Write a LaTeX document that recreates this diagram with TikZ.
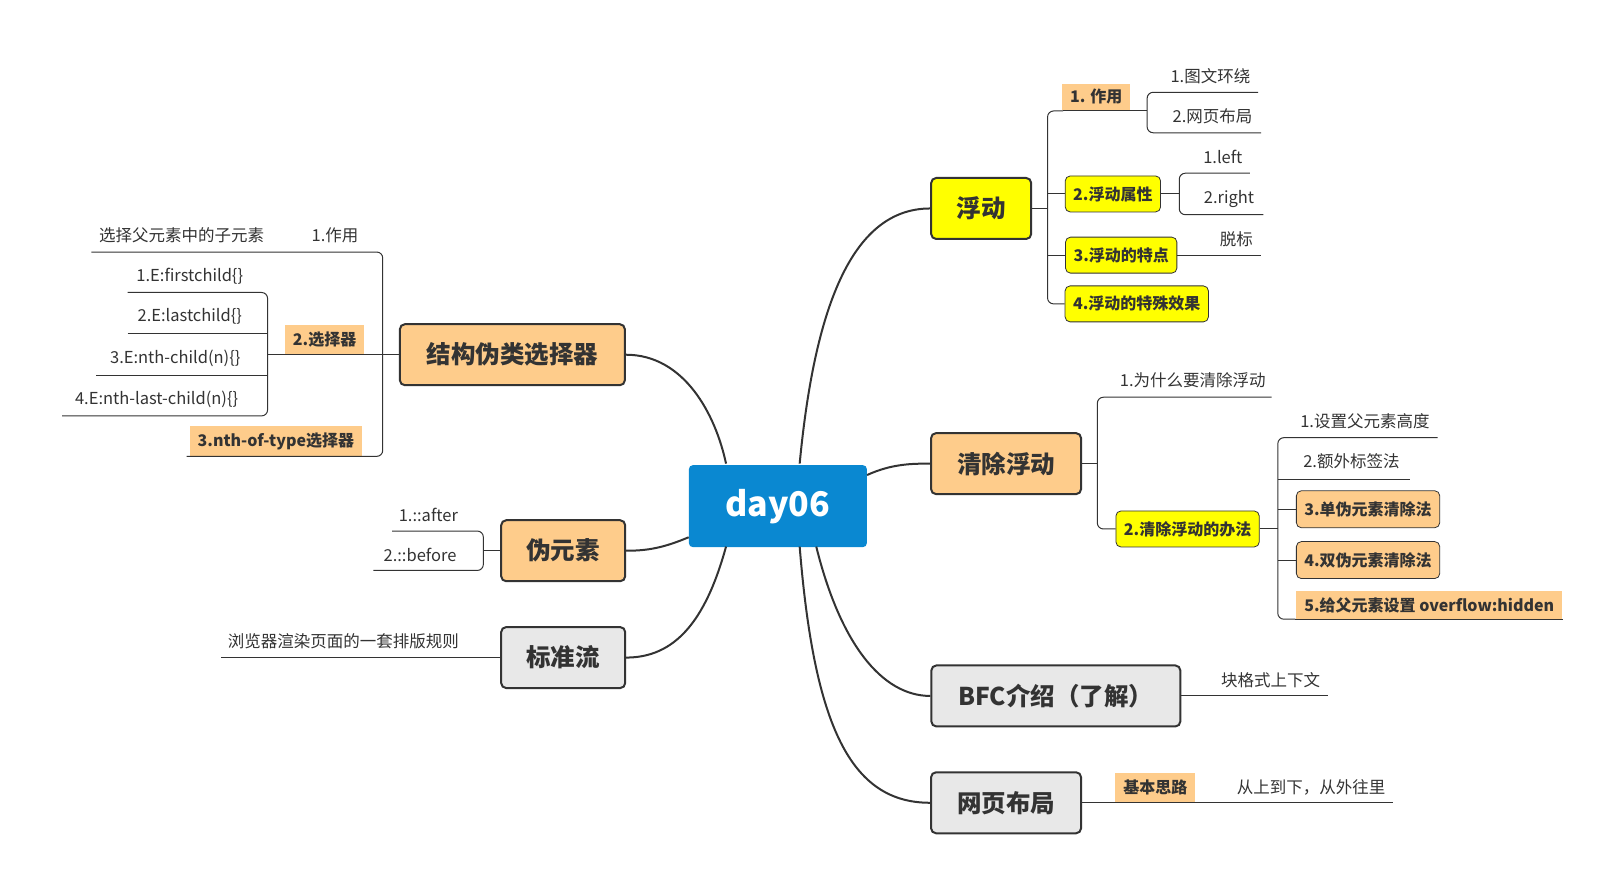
\documentclass[tikz,border=0pt]{standalone}
\usepackage{fontspec}
\setmainfont{Noto Sans CJK SC}
\begin{document}
\begin{tikzpicture}[x=1.0372pt,y=-1.0372pt,
  every node/.style={text=txt,inner sep=0pt},
  main/.style={draw=bd,line width=2pt,rounded corners=5pt,font=\bfseries\fontsize{24.5}{26}\selectfont,minimum height=61pt},
  sub/.style={draw=bd,line width=0.8pt,rounded corners=5pt,font=\bfseries\fontsize{16}{18}\selectfont,minimum height=36pt,inner xsep=8pt},
  tag/.style={fill=org,font=\bfseries\fontsize{16}{18}\selectfont,minimum height=29pt,inner xsep=8pt},
  leaf/.style={font=\fontsize{16.5}{18}\selectfont},
  ln/.style={draw=bd,line width=1pt,rounded corners=6pt},
  cv/.style={draw=bd,line width=2pt}]
\definecolor{txt}{HTML}{333333}
\definecolor{bd}{HTML}{333333}
\definecolor{org}{HTML}{FECC8B}
\definecolor{yel}{HTML}{FFFF00}
\definecolor{blu}{HTML}{0A88D1}
\definecolor{gry}{HTML}{E8E8E8}
\useasboundingbox (0,0) rectangle (1560,861);
% center
\node[fill=blu,rounded corners=4pt,minimum width=178pt,minimum height=82pt,text=white,font=\bfseries\fontsize{34}{36}\selectfont] (c) at (750,488) {day06};
% main topics
\node[main,fill=yel,minimum width=100pt] (fd) at (946,201) {浮动};
\node[main,fill=org,minimum width=225pt] (jg) at (494,342) {结构伪类选择器};
\node[main,fill=org,minimum width=124pt] (wy) at (543,531) {伪元素};
\node[main,fill=gry,minimum width=124pt] (bz) at (543,634) {标准流};
\node[main,fill=org,minimum width=150pt] (qc) at (970,447) {清除浮动};
\node[main,fill=gry,minimum width=249pt] (bfc) at (1018,671) {BFC介绍（了解）};
\node[main,fill=gry,minimum width=150pt] (wb) at (970,774) {网页布局};
% curves
\draw[cv] (771,447) .. controls (785,300) and (820,201) .. (fd.west);
\draw[cv] (700,447) .. controls (690,400) and (660,342) .. (jg.east);
\draw[cv] (664,518) .. controls (640,528) and (625,531) .. (wy.east);
\draw[cv] (700,527) .. controls (680,600) and (650,634) .. (bz.east);
\draw[cv] (836,458) .. controls (860,447) and (880,447) .. (qc.west);
\draw[cv] (787,527) .. controls (810,620) and (850,671) .. (bfc.west);
\draw[cv] (771,527) .. controls (785,700) and (820,774) .. (wb.west);
% ---- 浮动
\node[tag,minimum height=26pt] (f1) at (1057,93.5) {1. 作用};
\node[sub,fill=yel] (f2) at (1073,187) {2.浮动属性};
\node[sub,fill=yel] (f3) at (1081,246) {3.浮动的特点};
\node[sub,fill=yel] (f4) at (1096,293) {4.浮动的特殊效果};
\draw[ln] (fd.east) -- (1010,201);
\draw[ln] (1025,107) -| (1010,293) -- (f4.west);
\draw[ln] (1010,187) -- (f2.west);
\draw[ln] (1010,246) -- (f3.west);
\draw[ln] (1025,107) -- (1106,107);
\node[leaf] (f11) at (1167,73) {1.图文环绕};
\node[leaf] (f12) at (1169,112) {2.网页布局};
\draw[ln] (1213,89) -- (1106,89) |- (1216,128);
\draw[ln] (1090,107) -- (1106,107);
\node[leaf] (f21) at (1179,151) {1.left};
\node[leaf] (f22) at (1185,192) {2.right};
\draw[ln] (f2.east) -- (1137,187);
\draw[ln] (1205,167) -- (1137,167) |- (1218,207);
\node[leaf] (f31) at (1192,231) {脱标};
\draw[ln] (f3.east) -- (1216,246);
% ---- 结构伪类选择器
\node[leaf] (j1) at (323,227) {1.作用};
\node[leaf] (j11) at (175,227) {选择父元素中的子元素};
\node[tag] (j2) at (313,327) {2.选择器};
\node[tag,minimum height=30pt] (j3) at (266,425.5) {3.nth-of-type选择器};
\draw[ln] (jg.west) -- (369,342);
\draw[ln] (88,243) -- (369,243) -- (369,440) -- (180,440);
\draw[ln] (369,342) -- (258,342);
\draw[ln] (123,282) -- (258,282) -- (258,401) -- (60,401);
\draw[ln] (123,322) -- (258,322);
\draw[ln] (93,362) -- (258,362);
\node[leaf] (j21) at (183,266) {1.E:firstchild\{\}};
\node[leaf] (j22) at (183,305) {2.E:lastchild\{\}};
\node[leaf] (j23) at (169,346) {3.E:nth-child(n)\{\}};
\node[leaf] (j24) at (151,385) {4.E:nth-last-child(n)\{\}};
% ---- 伪元素
\draw[ln] (wy.west) -- (466,531);
\draw[ln] (378,512) -- (466,512) -- (466,550) -- (360,550);
\node[leaf] (w1) at (413,496) {1.::after};
\node[leaf] (w2) at (405,535) {2.::before};
% ---- 标准流
\draw[ln] (bz.west) -- (213,634);
\node[leaf] (b1) at (331,618) {浏览器渲染页面的一套排版规则};
% ---- 清除浮动
\draw[ln] (qc.east) -- (1058,447);
\node[leaf] (q1) at (1150,367) {1.为什么要清除浮动};
\node[sub,fill=yel] (q2) at (1145,510) {2.清除浮动的办法};
\draw[ln] (1226,383) -- (1058,383) |- (q2.west);
\draw[ln] (q2.east) -- (1232,510);
\node[leaf] (q21) at (1316,406) {1.设置父元素高度};
\node[leaf] (q22) at (1303,445) {2.额外标签法};
\node[sub,fill=org,minimum height=37pt] (q23) at (1319,491) {3.单伪元素清除法};
\node[sub,fill=org,minimum height=37pt] (q24) at (1319,540) {4.双伪元素清除法};
\node[tag,minimum height=28pt] (q25) at (1378,583.5) {5.给父元素设置 overflow:hidden};
\draw[ln] (1386,422) -- (1232,422) |- (1249,597);
\draw[ln] (1232,462) -- (1359,462);
\draw[ln] (1232,491) -- (q23.west);
\draw[ln] (1232,540) -- (q24.west);
\draw[ln] (1249,597) -- (1507,597);
% ---- BFC
\draw[ln] (bfc.east) -- (1280,671);
\node[leaf] (bf1) at (1225,656) {块格式上下文};
% ---- 网页布局
\node[tag] (wb1) at (1114,759) {基本思路};
\draw[ln] (wb.east) -- (1343,774);
\node[leaf] (wb2) at (1264,759) {从上到下，从外往里};
\end{tikzpicture}
\end{document}
